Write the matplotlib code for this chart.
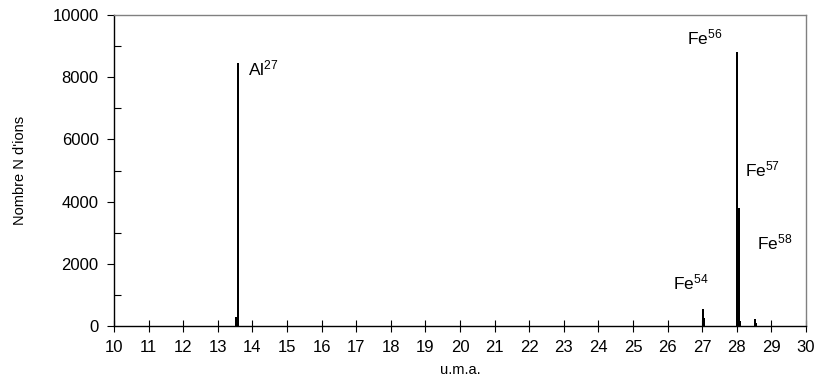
import numpy as np
import matplotlib
matplotlib.use("Agg")
import matplotlib.pyplot as plt
from matplotlib.ticker import MultipleLocator

plt.rcParams['font.family'] = ['Liberation Sans', 'DejaVu Sans']
plt.rcParams['mathtext.fontset'] = 'custom'
plt.rcParams['mathtext.rm'] = 'Liberation Sans'
plt.rcParams['mathtext.it'] = 'Liberation Sans'

# peaks (mass/charge, number of ions)
mass = [13.52, 13.57, 27.02, 27.05, 28.01, 28.06, 28.09, 28.52, 28.55]
counts = [300, 8450, 550, 260, 8800, 3800, 150, 210, 90]

labels = ["Al$^{27}$", "Fe$^{54}$", "Fe$^{56}$", "Fe$^{57}$", "Fe$^{58}$"]
label_x = [13.87, 26.16, 26.56, 28.24, 28.58]
label_y = [8050, 1170, 9040, 4800, 2450]

fig = plt.figure(figsize=(8.15, 3.87), dpi=100)
ax = fig.add_axes([0.1399, 0.1576, 0.8491, 0.8036])

ax.bar(mass, counts, width=0.06, color='black', linewidth=0)

for t, x, y in zip(labels, label_x, label_y):
    ax.text(x, y, t, fontsize=12.5, va='baseline', ha='left')

ax.set_xlim(10, 30)
ax.set_ylim(0, 10000)
ax.xaxis.set_major_locator(MultipleLocator(1))
ax.yaxis.set_major_locator(MultipleLocator(2000))
ax.yaxis.set_minor_locator(MultipleLocator(1000))
ax.tick_params(axis='x', direction='inout', length=8, width=0.8, labelsize=12, pad=6)
ax.tick_params(axis='y', which='major', direction='out', length=5, width=0.8, labelsize=12, pad=6)
ax.tick_params(axis='y', which='minor', direction='in', length=5, width=0.8)

for s in ['left', 'bottom']:
    ax.spines[s].set_linewidth(1.0)
for s in ['top', 'right']:
    ax.spines[s].set_color('#808080')
    ax.spines[s].set_linewidth(1.0)

ax.set_xlabel("u.m.a.", fontsize=10.5, labelpad=6)
ax.set_ylabel("Nombre N d'ions", fontsize=10.5, labelpad=18)

fig.savefig("out.png", dpi=100)
